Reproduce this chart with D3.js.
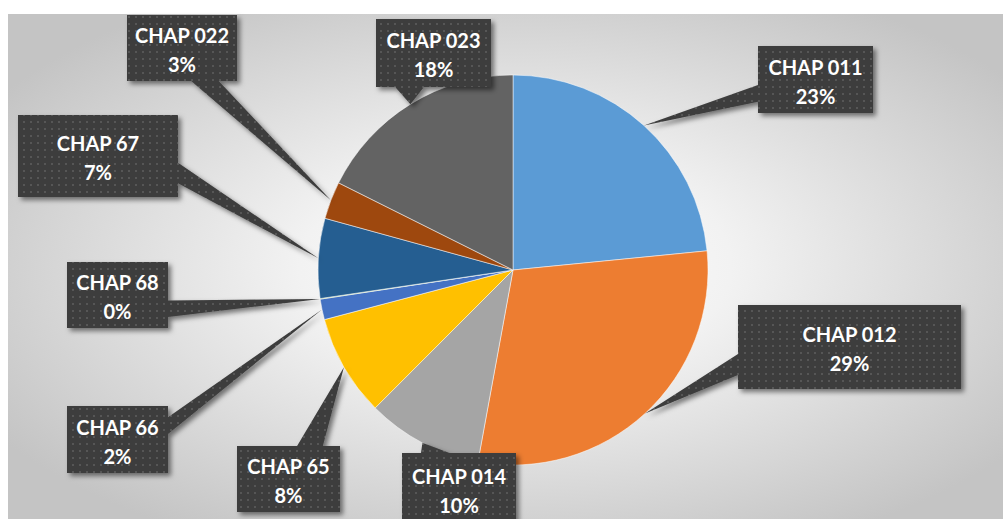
<!DOCTYPE html>
<html>
<head>
<meta charset="utf-8">
<script src="https://cdn.jsdelivr.net/npm/d3@7"></script>
<style>
body { margin: 0; background: #fff; }
</style>
</head>
<body>
<svg width="1003" height="519"></svg>
<script>
var categories = ['CHAP 011', 'CHAP 012', 'CHAP 014', 'CHAP 65', 'CHAP 66', 'CHAP 68', 'CHAP 67', 'CHAP 022', 'CHAP 023'];
var values = [23.4, 29.4, 9.6, 8.4, 1.7, 0.05, 6.6, 3.1, 17.6];
var colors = ['#5B9BD5', '#ED7D31', '#A5A5A5', '#FFC000', '#4472C4', '#70AD47', '#255E91', '#9E480E', '#636363'];

// where each callout box sits: [left, top, width, height]
var labelBoxes = [
    [758, 46, 115, 67],
    [738, 305, 223, 84],
    [402, 453, 114, 72],
    [237, 446, 103, 66],
    [67, 406, 101, 67],
    [67, 262, 101, 66],
    [18, 115, 160, 82],
    [127, 15, 110, 66],
    [376, 19, 115, 68]
];

var svg = d3.select('svg');
var cx = 513, cy = 270, R = 195;

var defs = svg.append('defs');

//background gradient of the plot area
var grad = defs.append('radialGradient').attr('id', 'bg')
    .attr('cx', '51%').attr('cy', '50%').attr('r', '62%');
grad.append('stop').attr('offset', '0%').attr('stop-color', '#ffffff');
grad.append('stop').attr('offset', '35%').attr('stop-color', '#f2f2f2');
grad.append('stop').attr('offset', '100%').attr('stop-color', '#c4c4c4');

//dotted dark fill of the callouts
var pat = defs.append('pattern').attr('id', 'dots')
    .attr('patternUnits', 'userSpaceOnUse')
    .attr('width', 7).attr('height', 7);
pat.append('rect').attr('width', 7).attr('height', 7).attr('fill', '#3d3d3d');
pat.append('rect').attr('x', 2).attr('y', 2).attr('width', 2).attr('height', 2).attr('fill', '#575757');

var shadow = defs.append('filter').attr('id', 'shadow')
    .attr('x', '-20%').attr('y', '-20%').attr('width', '150%').attr('height', '150%');
shadow.append('feDropShadow')
    .attr('dx', 3).attr('dy', 3).attr('stdDeviation', 2.5)
    .attr('flood-color', '#000').attr('flood-opacity', 0.5);

svg.append('rect')
    .attr('x', 8).attr('y', 14)
    .attr('width', 995).attr('height', 505)
    .attr('fill', 'url(#bg)');

var total = d3.sum(values);
var pie = d3.pie().sort(null).value(function(d) { return d; });
var arcs = pie(values);

var arc = d3.arc().innerRadius(0).outerRadius(R);
var edge = d3.arc().innerRadius(R).outerRadius(R);

var g = svg.append('g').attr('transform', 'translate(' + cx + ',' + cy + ')');

g.selectAll('path')
    .data(arcs)
    .enter()
    .append('path')
    .attr('d', arc)
    .attr('fill', function(d, i) { return colors[i]; })
    .attr('stroke', '#ffffff')
    .attr('stroke-width', 0.5);

//wedge callout: box + triangle pointing at the slice edge
function calloutPath(box, tip) {
    var l = box[0], t = box[1], w = box[2], h = box[3];
    var r = l + w, b = t + h;
    var hc = l + w / 2, vc = t + h / 2;
    var dx = tip[0] - hc, dy = tip[1] - vc;
    var dq = dx * h / w;
    var x1 = l + w * (dx > 0 ? 7 : 2) / 12, x2 = l + w * (dx > 0 ? 10 : 5) / 12;
    var y1 = t + h * (dy > 0 ? 7 : 2) / 12, y2 = t + h * (dy > 0 ? 10 : 5) / 12;
    var p = [];
    if (Math.abs(dy) > Math.abs(dq)) {
        if (dy < 0) {
            p = [[l, t], [x1, t], tip, [x2, t], [r, t], [r, b], [l, b]];
        } else {
            p = [[l, t], [r, t], [r, b], [x2, b], tip, [x1, b], [l, b]];
        }
    } else {
        if (dx < 0) {
            p = [[l, t], [r, t], [r, b], [l, b], [l, y2], tip, [l, y1]];
        } else {
            p = [[l, t], [r, t], [r, y1], tip, [r, y2], [r, b], [l, b]];
        }
    }
    return 'M' + p.map(function(q) { return q[0] + ',' + q[1]; }).join('L') + 'Z';
}

var labels = svg.append('g').selectAll('g')
    .data(arcs)
    .enter()
    .append('g');

labels.append('path')
    .attr('d', function(d, i) {
        var c = edge.centroid(d);
        return calloutPath(labelBoxes[i], [cx + c[0], cy + c[1]]);
    })
    .attr('fill', 'url(#dots)')
    .attr('filter', 'url(#shadow)');

labels.append('text')
    .attr('x', function(d, i) { return labelBoxes[i][0] + labelBoxes[i][2] / 2; })
    .attr('y', function(d, i) { return labelBoxes[i][1] + labelBoxes[i][3] / 2 - 13; })
    .attr('text-anchor', 'middle')
    .attr('dominant-baseline', 'central')
    .attr('fill', '#fff')
    .style('font-family', 'Lato, sans-serif')
    .style('font-weight', 'bold')
    .style('font-size', '20px')
    .text(function(d, i) { return categories[i]; });

labels.append('text')
    .attr('x', function(d, i) { return labelBoxes[i][0] + labelBoxes[i][2] / 2; })
    .attr('y', function(d, i) { return labelBoxes[i][1] + labelBoxes[i][3] / 2 + 16; })
    .attr('text-anchor', 'middle')
    .attr('dominant-baseline', 'central')
    .attr('fill', '#fff')
    .style('font-family', 'Lato, sans-serif')
    .style('font-weight', 'bold')
    .style('font-size', '20px')
    .text(function(d) { return Math.round(d.value / total * 100) + '%'; });
</script>
</body>
</html>
